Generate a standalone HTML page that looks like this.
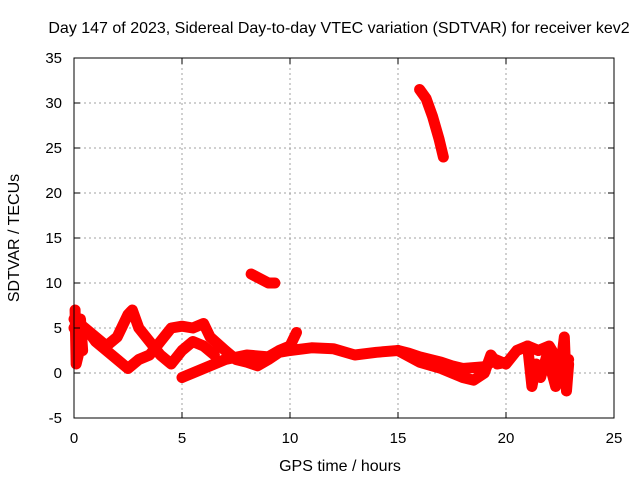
<!DOCTYPE html>
<html><head><meta charset="utf-8"><style>
body{margin:0;background:#fff}
svg{display:block;font-family:"Liberation Sans",sans-serif}
</style></head><body>
<svg id="chart" width="640" height="480" viewBox="0 0 640 480">
<rect width="640" height="480" fill="#fff"/>
<text x="339" y="33" font-size="16" text-anchor="middle">Day 147 of 2023, Sidereal Day-to-day VTEC variation (SDTVAR) for receiver kev2</text>
<text x="340" y="471" font-size="16" text-anchor="middle">GPS time / hours</text>
<text transform="translate(19,238) rotate(-90)" font-size="16" text-anchor="middle">SDTVAR / TECUs</text>
<g id="grid"></g><g id="marks"></g><g id="axes"></g>
</svg>
<script>
const xTicks=[0,5,10,15,20,25];
const yTicks=[-5,0,5,10,15,20,25,30,35];
const trackA=[[0,5],[0.3,4],[0.7,4.5],[1,3.5],[1.5,2.5],[2,1.5],[2.5,0.5],[3,1.5],[3.5,2],[4,3.5],[4.5,5],[5,5.2],[5.5,5],[6,5.5],[6.3,4],[7,2.5],[7.5,1.5],[8,1.2],[8.5,0.8],[9,1.5],[9.5,2.3],[10,2.5],[11,2.8],[12,2.7],[13,2],[14,2.3],[15,2.5],[15.5,2.2],[16,1.8],[17,1.2],[17.5,0.8],[18,0.5],[19,0.7],[19.5,1.5],[20,1],[20.5,2.5],[21,3],[21.5,2.5],[22,3],[22.5,1],[22.9,1.5]];
const trackB=[[0,6],[0.5,5],[1,4],[1.5,3],[2,4],[2.5,6.5],[2.7,7],[3,5],[3.5,3.5],[4,2],[4.5,1],[5,2.5],[5.5,3.5],[6,3],[6.5,2]];
const trackC=[[5,-0.5],[5.5,0],[6,0.5],[6.5,1],[7,1.5],[8,2],[9,1.8],[9.5,2.5],[10,3],[10.3,4.5]];
const trackD=[[8.2,11],[8.6,10.5],[9,10],[9.3,10]];
const trackE=[[16,31.5],[16.3,30.5],[16.6,28.5],[16.9,26],[17.1,24]];
const trackF=[[15,2.5],[16,1.2],[17,0.5],[17.5,0],[18,-0.5],[18.5,-0.8],[19,0],[19.3,2],[19.6,1],[20,1.2]];
const trackG=[[21,3],[21.2,-1.5],[21.4,1],[21.6,-0.5],[21.9,2],[22.3,-1.5],[22.5,0],[22.7,4],[22.8,-2],[22.9,1]];
const trackH=[[0.05,7],[0.1,1],[0.2,2],[0.3,6],[0.4,2.5]];
const tracks=[trackA,trackB,trackC,trackD,trackE,trackF,trackG,trackH];
const X0=74,X1=614,Y0=418,Y1=58;
const sx=v=>X0+(v-0)/25*(X1-X0);
const sy=v=>Y0-(v+5)/40*(Y0-Y1);
const NS="http://www.w3.org/2000/svg";
function mk(t,a,p){const e=document.createElementNS(NS,t);for(const k in a)e.setAttribute(k,a[k]);p.appendChild(e);return e;}
const grid=document.getElementById('grid'),axes=document.getElementById('axes'),marks=document.getElementById('marks');
xTicks.forEach(t=>{
 if(t>0&&t<25){const l=mk('line',{x1:sx(t),x2:sx(t),y1:Y1,y2:Y0,stroke:'#a0a0a0','stroke-dasharray':'2,3'},grid);
 }
 const tx=mk('text',{x:sx(t),y:Y0+25,'font-size':15,'text-anchor':'middle'},axes);tx.textContent=t;
 
 mk('line',{x1:sx(t),x2:sx(t),y1:Y0,y2:Y0-6,stroke:'#000'},axes);mk('line',{x1:sx(t),x2:sx(t),y1:Y1,y2:Y1+6,stroke:'#000'},axes);
});
yTicks.forEach(t=>{
 if(t>-5&&t<35){const l=mk('line',{x1:X0,x2:X1,y1:sy(t),y2:sy(t),stroke:'#a0a0a0','stroke-dasharray':'2,3'},grid);
 }
 const tx=mk('text',{x:X0-12,y:sy(t)+5,'font-size':15,'text-anchor':'end'},axes);tx.textContent=t;
 
 mk('line',{x1:X0,x2:X0+6,y1:sy(t),y2:sy(t),stroke:'#000'},axes);mk('line',{x1:X1,x2:X1-6,y1:sy(t),y2:sy(t),stroke:'#000'},axes);
});
const frame=mk('rect',{x:X0,y:Y1,width:X1-X0,height:Y0-Y1,fill:'none',stroke:'#000'},axes);

tracks.forEach((tr,i)=>{
 const pl=mk('polyline',{points:tr.map(p=>sx(p[0])+','+sy(p[1])).join(' '),fill:'none',stroke:'#ff0000','stroke-width':11,'stroke-linejoin':'round','stroke-linecap':'round'},marks);
 
 
 tr.forEach(p=>{
  const g=mk('path',{d:`M${sx(p[0])-5},${sy(p[1])}h10M${sx(p[0])},${sy(p[1])-5}v10`,stroke:'#ff0000','stroke-width':2},marks);
  
  
 });
});
</script>
</body></html>
